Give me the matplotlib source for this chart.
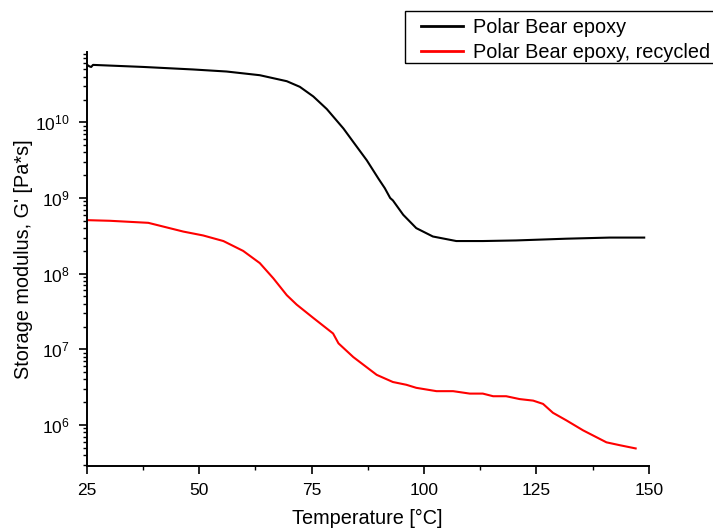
import matplotlib
matplotlib.use("Agg")
import matplotlib.pyplot as plt
from matplotlib.patches import Rectangle
from matplotlib.ticker import FixedLocator, LogLocator, NullFormatter, MultipleLocator

plt.rcParams['font.family'] = ['Liberation Sans', 'DejaVu Sans']
plt.rcParams['mathtext.default'] = 'regular'

# Data
temp_orig = [25.1, 25.6, 26.0, 26.4, 37.6, 48.7, 56.1, 63.5, 69.5, 72.4, 75.4, 78.4,
             82.1, 84.3, 87.3, 89.9, 91.3, 92.5, 93.1, 95.4, 98.3, 102.0, 107.2,
             113.1, 120.5, 131.7, 141.3, 149.0]
g_orig = [5.75e10, 5.5e10, 5.4e10, 5.75e10, 5.4e10, 5.0e10, 4.7e10, 4.2e10, 3.5e10,
          2.95e10, 2.2e10, 1.5e10, 8.3e9, 5.5e9, 3.15e9, 1.8e9, 1.35e9, 1.0e9,
          9.3e8, 6.0e8, 4.0e8, 3.1e8, 2.7e8, 2.7e8, 2.75e8, 2.9e8, 3.0e8, 3.0e8]

temp_rec = [25.0, 30.2, 38.7, 41.3, 46.5, 50.9, 55.4, 59.8, 63.5, 66.5, 69.5, 71.7,
            75.4, 79.8, 81.0, 84.3, 89.5, 93.1, 96.1, 98.3, 102.8, 106.5, 110.2,
            113.1, 115.4, 118.3, 121.3, 124.3, 126.5, 128.7, 131.7, 135.4, 140.6,
            143.6, 147.1]
g_rec = [5.1e8, 5.0e8, 4.7e8, 4.3e8, 3.6e8, 3.2e8, 2.7e8, 2.0e8, 1.38e8, 8.7e7,
         5.2e7, 3.9e7, 2.6e7, 1.62e7, 1.2e7, 7.9e6, 4.6e6, 3.7e6, 3.4e6, 3.1e6,
         2.8e6, 2.8e6, 2.6e6, 2.6e6, 2.4e6, 2.4e6, 2.2e6, 2.1e6, 1.9e6, 1.45e6,
         1.15e6, 8.5e5, 5.9e5, 5.4e5, 4.9e5]

labels = ["Polar Bear epoxy", "Polar Bear epoxy, recycled"]
xticks = [25, 50, 75, 100, 125, 150]

W, H = 713, 530
fig = plt.figure(figsize=(W / 100, H / 100), dpi=100)
ax = fig.add_axes([86.7 / W, 64 / H, (648.7 - 86.7) / W, (466 - 52) / H])

ax.plot(temp_orig, g_orig, color='black', lw=1.5, label=labels[0])
ax.plot(temp_rec, g_rec, color='#ff0000', lw=1.5, label=labels[1])

ax.set_yscale('log')
ax.set_xlim(25, 150)
ax.set_ylim(10 ** 5.458, 10 ** 10.93)

ax.xaxis.set_major_locator(FixedLocator(xticks))
ax.xaxis.set_minor_locator(MultipleLocator(12.5))
ax.yaxis.set_major_locator(LogLocator(base=10, numticks=20))
ax.yaxis.set_minor_locator(LogLocator(base=10, subs=range(2, 10), numticks=20))
ax.yaxis.set_minor_formatter(NullFormatter())

for s in ['top', 'right']:
    ax.spines[s].set_visible(False)
for s in ['left', 'bottom']:
    ax.spines[s].set_linewidth(1.4)

ax.tick_params(which='major', direction='out', length=6, width=1.2, labelsize=12.5, pad=6)
ax.tick_params(which='minor', direction='out', length=3, width=1.0)

ax.set_xlabel("Temperature [°C]", fontsize=14.3, labelpad=8)
ax.set_ylabel("Storage modulus, G' [Pa*s]", fontsize=14.3, labelpad=2)

# legend frame (extends beyond the right edge of the figure)
fig.patches.append(Rectangle((405 / W, 1 - 63 / H), 400 / W, 52 / H,
                             transform=fig.transFigure, fill=False,
                             edgecolor='black', lw=1.0))
leg = fig.legend(loc='upper left', bbox_to_anchor=(421 / W, 1 - 18 / H),
                 bbox_transform=fig.transFigure, fontsize=14.3, frameon=False,
                 handlelength=2.1, handletextpad=0.5, borderpad=0,
                 labelspacing=0.3, borderaxespad=0)
for line in leg.get_lines():
    line.set_linewidth(2.0)

fig.savefig("out.png", dpi=100)
